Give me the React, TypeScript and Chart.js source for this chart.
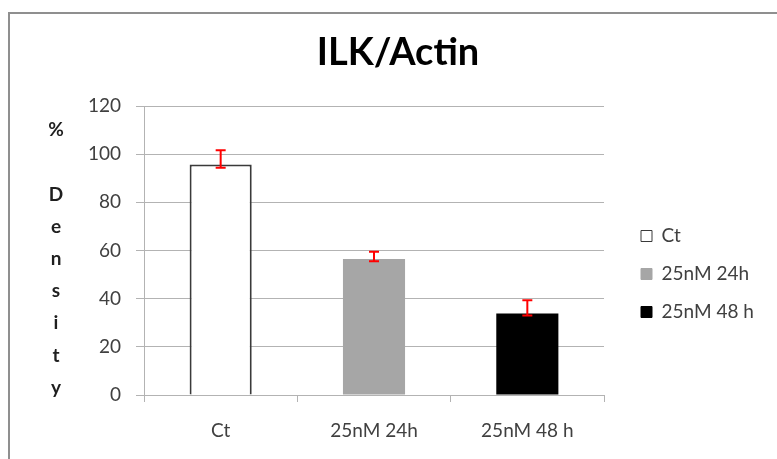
import React, { useEffect, useRef } from 'react';
import { Chart, registerables } from 'chart.js';

Chart.register(...registerables);

// ---- data ----
const categories = ['Ct', '25nM 24h', '25nM 48 h'];
const values = [95.7, 56.5, 33.8];
const errLow = [94.4, 55.5, 33.0];
const errHigh = [101.6, 59.5, 39.3];
const yTicks = [0, 20, 40, 60, 80, 100, 120];
const yTitleLines = ['%', '', 'D', 'e', 'n', 's', 'i', 't', 'y'];
const chartTitle = 'ILK/Actin';

// ---- styles ----
const barFill = ['#ffffff', '#a6a6a6', '#000000'];
const barStroke = ['#3a3a3a', '#a6a6a6', '#000000'];
const barBorderW = [2, 0, 0];
const FONT = 'Lato';
const TEXT = '#404040';
const GRID = '#b3b3b3';

const W = 777;
const H = 459;

export default function App() {
  const ref = useRef<HTMLCanvasElement | null>(null);

  useEffect(() => {
    if (!ref.current) return;

    // measure legend natural width to place the legend precisely
    const mc = document.createElement('canvas').getContext('2d')!;
    mc.font = `19px ${FONT}`;
    const maxText = Math.max(...categories.map((c) => mc.measureText(c).width));
    const legendPad = 19;
    const boxW = 11;
    const legendW = legendPad + boxW + 19 / 2 + maxText + 10;
    const padR = Math.max(0, 155 - legendW);
    const padL = padR + 19;
    const yAxisW = 144 - padL;

    const extras = {
      id: 'extras',
      afterDatasetsDraw(chart: any) {
        const ctx = chart.ctx;
        const meta = chart.getDatasetMeta(0);
        const ys = chart.scales.y;
        ctx.save();
        ctx.strokeStyle = '#ff0000';
        ctx.lineWidth = 2;
        meta.data.forEach((bar: any, i: number) => {
          const x = bar.x;
          const t = ys.getPixelForValue(errHigh[i]);
          const b = ys.getPixelForValue(errLow[i]);
          ctx.beginPath();
          ctx.moveTo(x, t);
          ctx.lineTo(x, b);
          ctx.moveTo(x - 5, t);
          ctx.lineTo(x + 5, t);
          ctx.moveTo(x - 5, b);
          ctx.lineTo(x + 5, b);
          ctx.stroke();
        });
        ctx.restore();
      },
      afterDraw(chart: any) {
        const ctx = chart.ctx;
        ctx.save();
        ctx.font = `bold 19px ${FONT}`;
        ctx.fillStyle = '#1f1f1f';
        ctx.textAlign = 'center';
        ctx.textBaseline = 'middle';
        yTitleLines.forEach((s, k) => {
          if (s) ctx.fillText(s, 56, 130 + 32.2 * k);
        });
        ctx.restore();
      },
    };

    const chart = new Chart(ref.current, {
      type: 'bar',
      data: {
        labels: categories,
        datasets: [
          {
            data: values,
            backgroundColor: barFill,
            borderColor: barStroke,
            borderWidth: barBorderW,
            categoryPercentage: 1,
            barPercentage: 0.405,
          },
        ],
      },
      options: {
        animation: false,
        responsive: false,
        devicePixelRatio: 1,
        layout: { padding: { left: padL, right: padR, top: 0, bottom: 0 } },
        plugins: {
          tooltip: { enabled: false },
          title: {
            display: true,
            text: chartTitle,
            color: '#000000',
            font: { family: FONT, size: 38, weight: 'bold', lineHeight: 1.2 },
            padding: { top: 30, bottom: 106 - 30 - 45.6 },
          },
          legend: {
            display: true,
            position: 'right',
            fullSize: false,
            align: 'center',
            maxWidth: 300,
            title: {
              display: true,
              text: ' ',
              font: { size: 10, lineHeight: 1 },
              padding: { top: 0, bottom: 37 },
            },
            labels: {
              boxWidth: boxW,
              boxHeight: boxW,
              padding: legendPad,
              color: TEXT,
              font: { family: FONT, size: 19 },
              generateLabels: () =>
                categories.map((c, i) => ({
                  text: c,
                  fillStyle: barFill[i],
                  strokeStyle: i === 0 ? '#3a3a3a' : barFill[i],
                  lineWidth: 1,
                  fontColor: TEXT,
                  hidden: false,
                  index: i,
                  datasetIndex: 0,
                })),
            },
          },
        },
        scales: {
          x: {
            type: 'category',
            offset: true,
            grid: {
              display: true,
              offset: true,
              drawOnChartArea: false,
              drawTicks: true,
              tickLength: 7,
              color: GRID,
            },
            border: { display: true, color: GRID, width: 1 },
            ticks: { color: TEXT, font: { family: FONT, size: 19 }, padding: 17 },
            afterFit: (s: any) => {
              s.height = H - 395;
            },
          },
          y: {
            type: 'linear',
            min: yTicks[0],
            max: yTicks[yTicks.length - 1],
            ticks: {
              stepSize: yTicks[1] - yTicks[0],
              color: TEXT,
              font: { family: FONT, size: 19 },
              padding: 15,
            },
            grid: { color: GRID, tickLength: 8, drawTicks: true },
            border: { display: true, color: GRID, width: 1 },
            afterFit: (s: any) => {
              s.width = yAxisW;
            },
          },
          spacer: {
            type: 'linear',
            position: 'right',
            display: false,
            afterFit: (s: any) => {
              s.width = 18;
            },
          },
        },
      } as any,
      plugins: [extras],
    });

    return () => chart.destroy();
  }, []);

  return (
    <div style={{ position: 'absolute', left: 0, top: 0, width: W, height: H, background: '#ffffff', overflow: 'hidden' }}>
      <div
        style={{
          position: 'absolute',
          left: 8,
          top: 12,
          width: W,
          height: H,
          borderLeft: '2px solid #8f8f8f',
          borderTop: '2px solid #8f8f8f',
        }}
      />
      <canvas ref={ref} width={W} height={H} style={{ position: 'absolute', left: 0, top: 0, width: W, height: H }} />
    </div>
  );
}
